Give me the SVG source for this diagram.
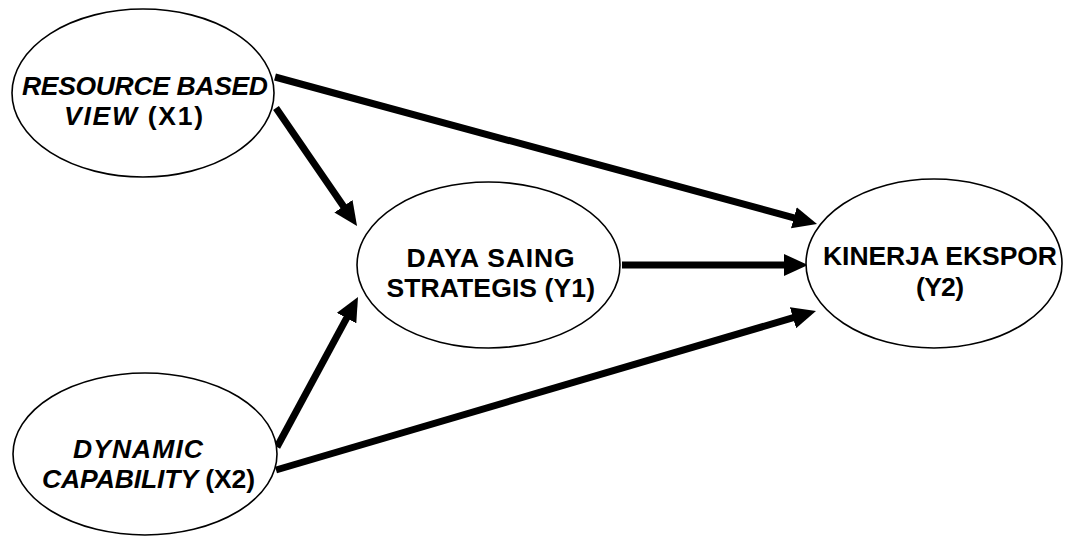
<svg xmlns="http://www.w3.org/2000/svg" width="1065" height="540" viewBox="0 0 1065 540">
  <style>
    .node { fill: #ffffff; stroke: #000000; stroke-width: 1.6; }
    .label { font-family: "Liberation Sans", Arial, sans-serif; font-size: 26.5px; font-weight: bold; fill: #000000; }
    .it { font-style: italic; }
    .edge { stroke: #000000; stroke-width: 7; fill: none; marker-end: url(#head); }
  </style>
  <defs>
    <marker id="head" markerUnits="userSpaceOnUse" viewBox="0 0 24 22" markerWidth="24" markerHeight="22" refX="4" refY="11" orient="auto">
      <path d="M0,0 L24,11 L0,22 z" fill="#000000"/>
    </marker>
  </defs>
  <rect width="1065" height="540" fill="#ffffff"/>

  <g id="connectors">
    <line class="edge" x1="275" y1="77" x2="797.7" y2="218.8"/>
    <line class="edge" x1="276" y1="108" x2="345.7" y2="209.5"/>
    <line class="edge" x1="622" y1="265" x2="788" y2="265"/>
    <line class="edge" x1="277" y1="447" x2="348.5" y2="314.6"/>
    <line class="edge" x1="276" y1="470" x2="796.8" y2="316.6"/>
  </g>

  <g id="x1">
    <ellipse class="node" cx="143" cy="93" rx="131" ry="84"/>
    <text class="label it" x="22" y="94.5" textLength="246">RESOURCE BASED</text>
    <text class="label" x="64" y="125" textLength="139"><tspan class="it">VIEW</tspan> (X1)</text>
  </g>

  <g id="x2">
    <ellipse class="node" cx="145" cy="454" rx="132" ry="81"/>
    <text class="label it" x="73" y="457.5" textLength="130">DYNAMIC</text>
    <text class="label" x="42" y="488" textLength="213"><tspan class="it">CAPABILITY</tspan> (X2)</text>
  </g>

  <g id="y1">
    <ellipse class="node" cx="488.5" cy="265" rx="131.5" ry="83"/>
    <text class="label" x="406.5" y="267" textLength="168">DAYA SAING</text>
    <text class="label" x="386.5" y="297" textLength="208.5">STRATEGIS (Y1)</text>
  </g>

  <g id="y2">
    <ellipse class="node" cx="934" cy="263.5" rx="128" ry="84.5"/>
    <text class="label" x="823" y="265" textLength="234">KINERJA EKSPOR</text>
    <text class="label" x="916" y="296" textLength="48">(Y2)</text>
  </g>
</svg>
